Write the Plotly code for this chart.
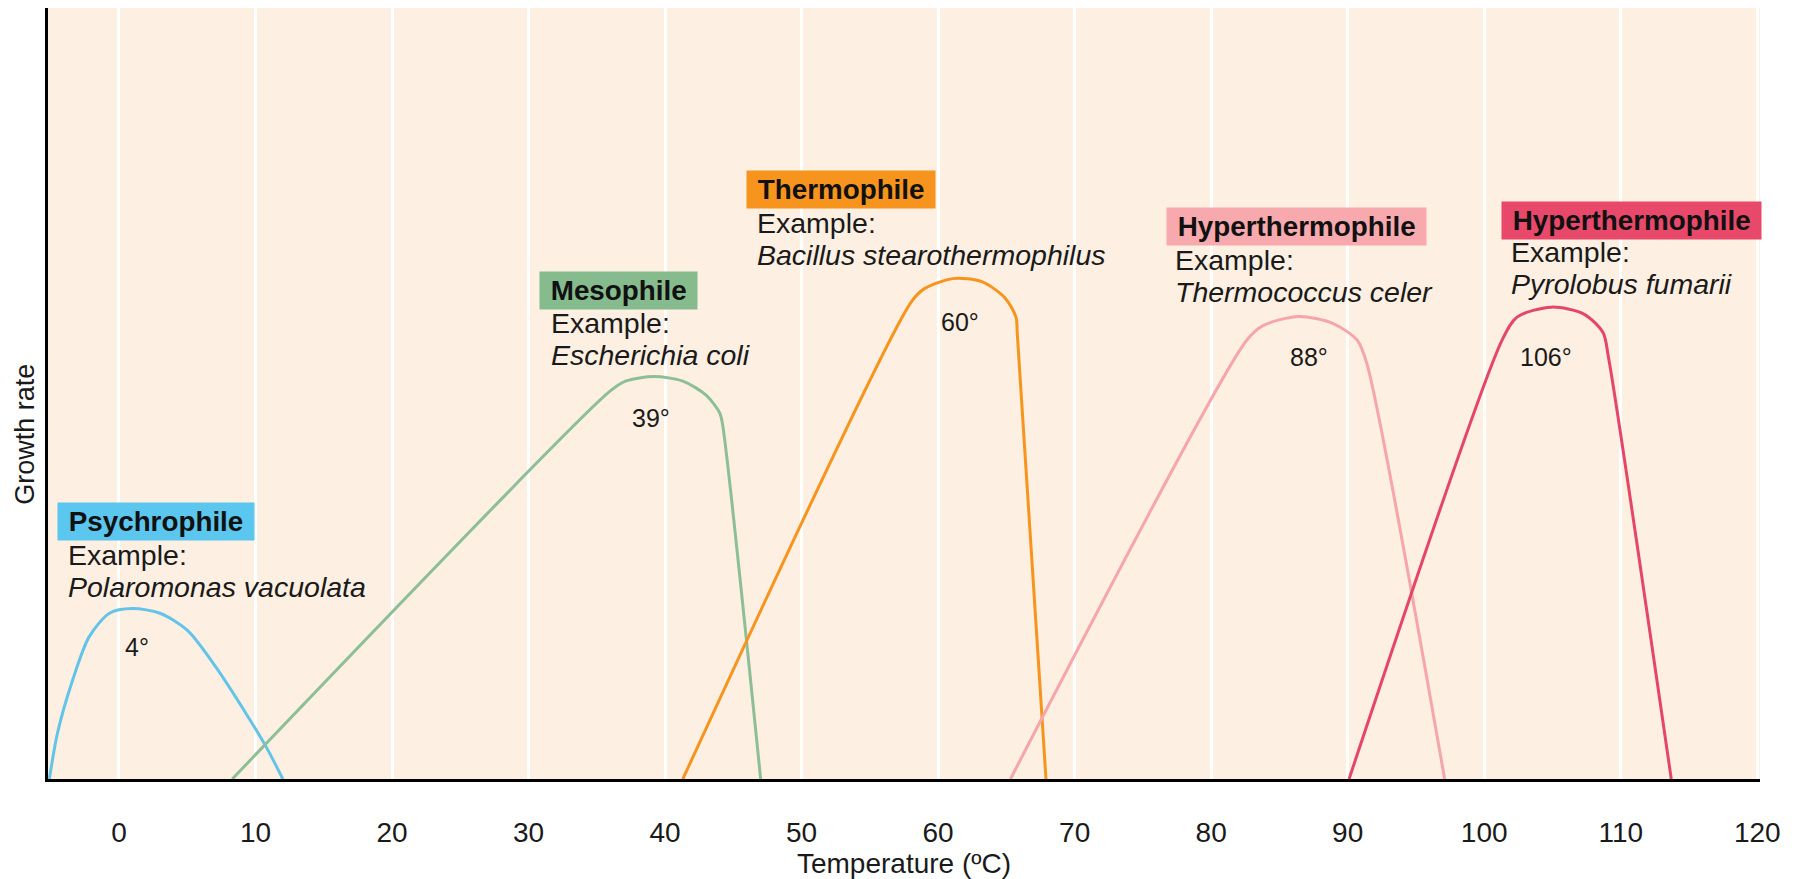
import plotly.graph_objects as go

# ---------------- data ----------------
groups = ["Psychrophile", "Mesophile", "Thermophile", "Hyperthermophile", "Hyperthermophile"]
species = ["Polaromonas vacuolata", "Escherichia coli", "Bacillus stearothermophilus",
           "Thermococcus celer", "Pyrolobus fumarii"]
optimum_labels = ["4°", "39°", "60°", "88°", "106°"]

psychro_temp = [-5.1, -4.5, -3.4, -2.2, -0.7, 1.0, 3.0, 5.0, 7.1, 9.3, 10.8, 12.0]
psychro_rate = [0.0, 6.0, 12.8, 18.4, 21.5, 22.1, 21.5, 19.3, 14.5, 8.5, 4.1, 0.0]

meso_temp = [8.3, 35.9, 37.1, 39.2, 41.3, 43.0, 44.0, 44.2, 47.0]
meso_rate = [0.0, 50.2, 51.6, 52.2, 51.6, 49.8, 47.5, 46.1, 0.0]

thermo_temp = [41.3, 58.0, 59.0, 61.1, 63.2, 64.9, 65.7, 65.8, 67.9]
thermo_rate = [0.0, 61.8, 63.6, 64.9, 64.5, 62.4, 59.9, 57.7, 0.0]

hyper1_temp = [65.3, 82.6, 83.8, 86.4, 88.9, 90.7, 91.4, 97.1]
hyper1_rate = [0.0, 56.9, 58.8, 60.0, 59.1, 56.9, 53.9, 0.0]

hyper2_temp = [90.1, 101.3, 102.4, 104.9, 107.3, 108.7, 109.1, 113.7]
hyper2_rate = [0.0, 56.9, 59.9, 61.2, 60.3, 57.9, 54.7, 0.0]

x_ticks = [0, 10, 20, 30, 40, 50, 60, 70, 80, 90, 100, 110, 120]

# ---------------- label placement & styles ----------------
curve_temps = [psychro_temp, meso_temp, thermo_temp, hyper1_temp, hyper2_temp]
curve_rates = [psychro_rate, meso_rate, thermo_rate, hyper1_rate, hyper2_rate]
line_colors = ["#63C4EA", "#8CBF98", "#F7941D", "#F6A6AB", "#E6456A"]
box_colors = ["#5BC6EE", "#86BB8E", "#F7941D", "#F7A9AE", "#E8496A"]

box_left_x = [-4.55, 30.8, 45.96, 76.7, 101.2]
box_mid_y = [33.4, 63.4, 76.4, 71.6, 72.5]
text_left_x = [-3.87, 31.5, 46.6, 77.2, 101.85]
example_y = [29.1, 59.1, 72.1, 67.3, 68.35]
species_y = [24.96, 55.0, 67.9, 63.2, 64.2]
opt_x = [1.35, 39.0, 61.6, 87.2, 104.5]
opt_y = [17.1, 46.8, 59.3, 54.7, 54.7]

FONT = "Liberation Sans, Arial, Helvetica, sans-serif"
TXT = 28.5

fig = go.Figure()
for t, r, c in zip(curve_temps, curve_rates, line_colors):
    fig.add_trace(go.Scatter(x=t, y=r, mode="lines",
                             line=dict(color=c, width=3, shape="spline", smoothing=0.8),
                             hoverinfo="skip", showlegend=False))

ann = []
for i in range(5):
    ann.append(dict(x=box_left_x[i], y=box_mid_y[i], xref="x", yref="y",
                    text="<b>\u00a0" + groups[i] + "\u00a0</b>", showarrow=False,
                    xanchor="left", yanchor="middle", bgcolor=box_colors[i], borderpad=3,
                    font=dict(family=FONT, size=27.8, color="#111111")))
    ann.append(dict(x=text_left_x[i], y=example_y[i], xref="x", yref="y",
                    text="Example:", showarrow=False, xanchor="left", yanchor="middle",
                    font=dict(family=FONT, size=TXT, color="#1a1a1a")))
    ann.append(dict(x=text_left_x[i], y=species_y[i], xref="x", yref="y",
                    text="<i>" + species[i] + "</i>", showarrow=False, xanchor="left",
                    yanchor="middle", font=dict(family=FONT, size=TXT, color="#1a1a1a")))
    ann.append(dict(x=opt_x[i], y=opt_y[i], xref="x", yref="y",
                    text=optimum_labels[i], showarrow=False, xanchor="center",
                    yanchor="middle", font=dict(family=FONT, size=25, color="#1a1a1a")))

# y-axis title placed as a rotated annotation (sits below centre in the original)
ann.append(dict(x=-0.0135, y=0.4475, xref="paper", yref="paper", text="Growth rate",
                textangle=-90, showarrow=False, xanchor="center", yanchor="middle",
                borderpad=0, font=dict(family=FONT, size=27, color="#1a1a1a")))

fig.update_layout(
    width=1794, height=871,
    margin=dict(l=40, r=42, t=0, b=100),
    paper_bgcolor="white", plot_bgcolor="#FDEFE1",
    annotations=ann,
    font=dict(family=FONT, color="#1a1a1a"),
)
fig.update_xaxes(range=[-5.2, 120.2], tickvals=x_ticks, ticktext=[str(v) for v in x_ticks],
                 showgrid=True, gridcolor="white", gridwidth=3,
                 showline=True, linecolor="black", linewidth=3, zeroline=False,
                 ticks="outside", ticklen=26, tickcolor="rgba(0,0,0,0)",
                 tickfont=dict(family=FONT, size=28, color="#1a1a1a"),
                 title=dict(text="Temperature (ºC)", standoff=2,
                            font=dict(family=FONT, size=28, color="#1a1a1a")),
                 automargin=False, fixedrange=True)
fig.update_yaxes(range=[0, 100], showgrid=False, showticklabels=False, ticks="",
                 showline=True, linecolor="black", linewidth=3, zeroline=False,
                 automargin=False, fixedrange=True)

fig.write_html("out.html")
